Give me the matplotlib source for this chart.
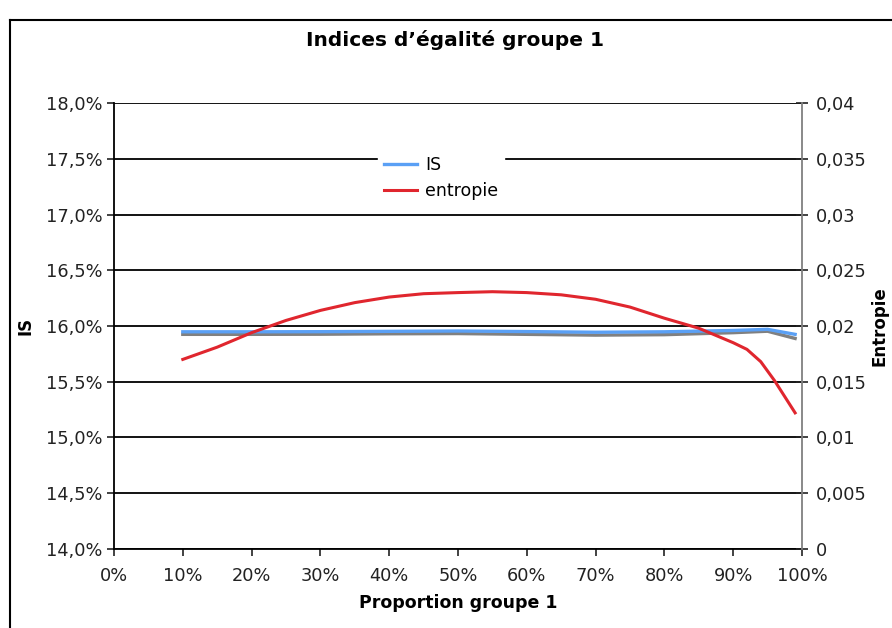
import matplotlib
matplotlib.use("Agg")
import matplotlib.pyplot as plt
from matplotlib.ticker import FixedLocator, FuncFormatter

# Data
prop_is = [10, 20, 30, 40, 50, 60, 70, 80, 90, 95, 99]
is_values = [15.948, 15.948, 15.949, 15.952, 15.955, 15.950, 15.944, 15.948, 15.960, 15.970, 15.925]
is_shadow = [15.925, 15.925, 15.926, 15.930, 15.932, 15.925, 15.918, 15.922, 15.940, 15.953, 15.888]

prop_ent = [10, 15, 20, 25, 30, 35, 40, 45, 50, 55, 60, 65, 70, 75, 80, 85, 90, 92, 94, 96, 99]
entropie = [0.0170, 0.0181, 0.0194, 0.0205, 0.0214, 0.0221, 0.0226, 0.0229, 0.0230, 0.02308,
            0.0230, 0.0228, 0.0224, 0.0217, 0.0207, 0.0198, 0.0185, 0.0179, 0.0168, 0.0151, 0.0122]

x_ticks = [0, 10, 20, 30, 40, 50, 60, 70, 80, 90, 100]
left_ticks = [14.0, 14.5, 15.0, 15.5, 16.0, 16.5, 17.0, 17.5, 18.0]
right_ticks = [0, 0.005, 0.01, 0.015, 0.02, 0.025, 0.03, 0.035, 0.04]
right_labels = ["0", "0,005", "0,01", "0,015", "0,02", "0,025", "0,03", "0,035", "0,04"]

plt.rcParams["font.family"] = ["DejaVu Sans"]

fig = plt.figure(figsize=(8.92, 6.28), dpi=100)
ax = fig.add_axes([114 / 892, 1 - 548.7 / 628, (802 - 114) / 892, (548.7 - 103.3) / 628])
ax2 = ax.twinx()

# outer chart border
fig.add_artist(plt.Line2D([10 / 892, 1], [1 - 20 / 628] * 2, color="black", lw=1.5))
fig.add_artist(plt.Line2D([10 / 892] * 2, [0, 1 - 20 / 628], color="black", lw=1.5))

ax.set_xlim(0, 100)
ax.set_ylim(14.0, 18.0)
ax2.set_ylim(0, 0.04)

ax.yaxis.set_major_locator(FixedLocator(left_ticks))
ax.yaxis.set_major_formatter(FuncFormatter(lambda v, p: f"{v:.1f}%".replace(".", ",")))
ax.xaxis.set_major_locator(FixedLocator(x_ticks))
ax.xaxis.set_major_formatter(FuncFormatter(lambda v, p: f"{v:.0f}%"))
ax2.yaxis.set_major_locator(FixedLocator(right_ticks))
ax2.set_yticklabels(right_labels)

ax.grid(axis="y", color="black", lw=1.3)
ax.set_axisbelow(True)

ax.plot(prop_is, is_shadow, color="#808080", lw=2.4, zorder=3)
l_is, = ax.plot(prop_is, is_values, color="#5aa0f5", lw=2.4, zorder=4, label="IS")
l_ent, = ax2.plot(prop_ent, entropie, color="#e0262e", lw=2.2, label="entropie")

for a in (ax, ax2):
    a.spines["top"].set_visible(False)
ax.spines["left"].set_color("black")
ax.spines["left"].set_linewidth(1.3)
ax.spines["bottom"].set_linewidth(1.3)
ax.spines["right"].set_visible(False)
ax2.spines["left"].set_visible(False)
ax2.spines["bottom"].set_visible(False)
ax2.spines["right"].set_color("#808080")
ax2.spines["right"].set_linewidth(1.3)

ax.tick_params(axis="both", direction="out", length=5, width=1.2, labelsize=12.8, colors="#222222")
ax.tick_params(axis="x", pad=8)
ax2.tick_params(axis="y", direction="inout", length=8, width=1.2, labelsize=12.8, colors="#222222", pad=6)

ax.set_xlabel("Proportion groupe 1", fontsize=12.5, fontweight="bold", labelpad=7)
ax.set_ylabel("IS", fontsize=12, fontweight="bold", labelpad=8)
ax2.set_ylabel("Entropie", fontsize=12, fontweight="bold", labelpad=3)

fig.text(455 / 892, 1 - 40 / 628, "Indices d\u2019égalité groupe 1", ha="center", va="center",
         fontsize=14.5, fontweight="bold")

leg = ax2.legend(handles=[l_is, l_ent], loc="center", bbox_to_anchor=(441 / 892, 1 - 178 / 628),
                 bbox_transform=fig.transFigure, frameon=True, fancybox=False, fontsize=12.5,
                 handlelength=1.95, borderpad=0.35, labelspacing=0.45, handletextpad=0.45,
                 borderaxespad=0)
leg.get_frame().set_edgecolor("white")
leg.get_frame().set_facecolor("white")
leg.get_frame().set_alpha(1)

fig.savefig("out.png", dpi=100)
